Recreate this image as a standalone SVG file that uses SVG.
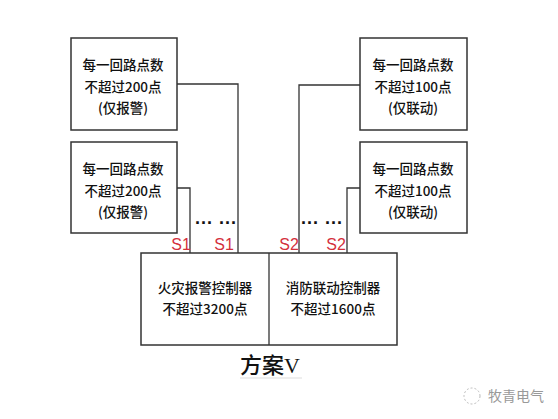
<svg xmlns="http://www.w3.org/2000/svg" width="558" height="419" viewBox="0 0 558 419">
<style>
.box{fill:#fff;stroke:#333;stroke-width:1.5}
.ln{fill:none;stroke:#333;stroke-width:1.3}
.t{font-family:"Noto Sans CJK SC","Liberation Sans",sans-serif;font-size:13.5px;font-weight:500;fill:#111;text-anchor:middle}
.s{font-family:"Liberation Sans",sans-serif;font-size:16px;fill:#d4303c;text-anchor:middle}
.dot{font-family:"Liberation Sans",sans-serif;font-size:18px;font-weight:bold;fill:#111;text-anchor:middle;letter-spacing:1px}
</style>
<rect width="558" height="419" fill="#fff"/>
<g id="connectors">
<polyline class="ln" points="177,84 238,84 238,253"/>
<polyline class="ln" points="177,188 190,188 190,253"/>
<polyline class="ln" points="360,85 299,85 299,253"/>
<polyline class="ln" points="360,188 347,188 347,253"/>
</g>
<g id="n1"><rect class="box" x="71" y="38" width="106" height="92"/>
<text class="t" x="123" y="70">每一回路点数</text><text class="t" x="123" y="92">不超过200点</text><text class="t" x="123" y="113">(仅报警)</text></g>
<g id="n2"><rect class="box" x="71" y="142" width="106" height="91"/>
<text class="t" x="123" y="174">每一回路点数</text><text class="t" x="123" y="196">不超过200点</text><text class="t" x="123" y="217">(仅报警)</text></g>
<g id="n3"><rect class="box" x="360" y="38" width="107" height="92"/>
<text class="t" x="413" y="70">每一回路点数</text><text class="t" x="413" y="92">不超过100点</text><text class="t" x="413" y="113">(仅联动)</text></g>
<g id="n4"><rect class="box" x="360" y="142" width="107" height="91"/>
<text class="t" x="413" y="174">每一回路点数</text><text class="t" x="413" y="196">不超过100点</text><text class="t" x="413" y="217">(仅联动)</text></g>
<g id="labels">
<text class="dot" x="216" y="224">... ...</text>
<text class="dot" x="322" y="224">... ...</text>
<text class="s" x="181" y="250">S1</text>
<text class="s" x="224" y="250">S1</text>
<text class="s" x="289" y="250">S2</text>
<text class="s" x="336" y="250">S2</text>
</g>
<g id="controller">
<rect class="box" x="141" y="253" width="256" height="92"/>
<line class="ln" x1="269" y1="253" x2="269" y2="345"/>
<text class="t" x="205" y="293">火灾报警控制器</text>
<text class="t" x="205" y="314">不超过3200点</text>
<text class="t" x="333" y="293">消防联动控制器</text>
<text class="t" x="333" y="314">不超过1600点</text>
</g>
<g id="title">
<text x="270" y="373" font-family="Noto Sans CJK SC,Liberation Serif,serif" font-size="22" font-weight="500" fill="#111" text-anchor="middle">方案<tspan font-family="Liberation Serif,serif" font-weight="normal">V</tspan></text>
<line x1="240" y1="378" x2="302" y2="378" stroke="#ddd" stroke-width="1"/>
</g>
<g id="watermark" fill="none" stroke="#bbb" stroke-width="1">
<circle cx="472" cy="396" r="8" stroke-dasharray="2,2"/>
<text x="488" y="401" font-family="Noto Sans CJK SC,Liberation Sans,sans-serif" font-size="14" fill="#999" stroke="none">牧青电气</text>
</g>
</svg>
